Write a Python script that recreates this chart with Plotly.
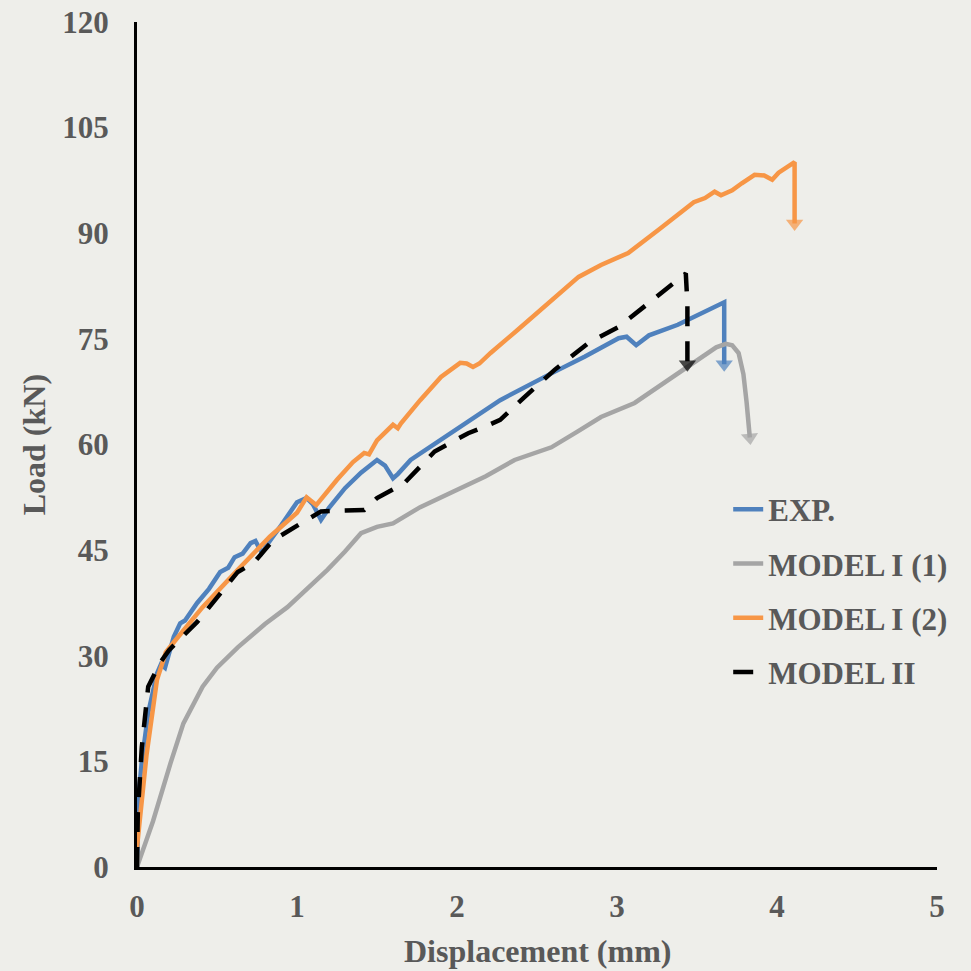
import plotly.graph_objects as go

# ---- data (Displacement mm, Load kN) ----
exp_x = [0, 0.005, 0.01, 0.03, 0.07, 0.125, 0.15, 0.175, 0.207, 0.23, 0.27, 0.3, 0.376, 0.45, 0.52, 0.57,
         0.61, 0.66, 0.71, 0.74, 0.78, 0.82, 0.9, 1.0, 1.06, 1.1, 1.15, 1.2, 1.3, 1.4, 1.5, 1.55, 1.6,
         1.63, 1.71, 1.96, 2.27, 2.59, 2.8, 3.01, 3.06, 3.12, 3.2, 3.38, 3.5, 3.67, 3.67]
exp_y = [0, 5, 10, 15, 21.9, 27.5, 28.8, 28.3, 31.2, 32.7, 34.6, 35, 37.5, 39.5, 41.9, 42.5,
         44, 44.5, 46, 46.3, 44.6, 46, 48.5, 51.8, 52.4, 51.5, 49.3, 51, 53.8, 56, 57.8, 57, 55.2,
         55.8, 57.8, 61.6, 66.3, 70.1, 72.5, 75.1, 75.3, 74.1, 75.5, 77.0, 78.3, 80.2, 71.4]

m1_x = [0, 0.1, 0.21, 0.29, 0.41, 0.5, 0.63, 0.8, 0.94, 1.19, 1.3, 1.4, 1.5, 1.6, 1.77, 2.0, 2.18,
        2.36, 2.59, 2.75, 2.9, 3.11, 3.2, 3.32, 3.53, 3.62, 3.68, 3.72, 3.76, 3.79, 3.81, 3.83]
m1_y = [0, 6.5, 14.8, 20.4, 25.6, 28.3, 31.2, 34.5, 36.9, 42.2, 44.8, 47.4, 48.3, 48.8, 51.1, 53.6, 55.5,
        57.8, 59.6, 61.8, 63.9, 65.9, 67.3, 69.2, 72.4, 73.8, 74.3, 74.1, 73.0, 70.0, 66.0, 61.0]

m2_x = [0, 0.06, 0.125, 0.18, 0.24, 0.41, 0.63, 0.83, 1.0, 1.06, 1.12, 1.25, 1.35, 1.42, 1.45, 1.5,
        1.6, 1.63, 1.65, 1.77, 1.9, 2.02, 2.06, 2.1, 2.14, 2.21, 2.38, 2.59, 2.76, 2.9, 3.07, 3.26,
        3.48, 3.55, 3.61, 3.65, 3.72, 3.78, 3.86, 3.92, 3.97, 4.01, 4.11, 4.11]
m2_y = [2.8, 16, 26.6, 30.5, 32.2, 36.9, 42.2, 46.9, 50.3, 52.5, 51.4, 55, 57.5, 58.8, 58.6, 60.6,
        62.8, 62.3, 63.0, 66.3, 69.6, 71.6, 71.5, 71.0, 71.5, 73.0, 76.3, 80.5, 83.8, 85.5, 87.2, 90.5,
        94.4, 95.0, 95.9, 95.4, 96.1, 97.1, 98.3, 98.2, 97.6, 98.6, 100.1, 91.4]

m2b_x = [0, 0.005, 0.03, 0.07, 0.144, 0.2, 0.376, 0.52, 0.63, 0.73, 0.85, 1.04, 1.15, 1.25, 1.42, 1.5,
         1.67, 1.86, 2.07, 2.17, 2.27, 2.42, 2.61, 2.82, 3.01, 3.05, 3.2, 3.36, 3.43, 3.44, 3.44]
m2b_y = [0, 7.7, 17, 25.6, 29, 30.8, 34.8, 38.9, 41.9, 43.2, 46.4, 49, 50.5, 50.6, 50.7, 52.4,
         54.5, 59.0, 61.6, 62.5, 63.5, 66.7, 70.6, 74.4, 76.7, 77.4, 80.1, 82.9, 84.3, 80.0, 71.4]

series = [
    ("EXP.", exp_x, exp_y, "#4F81BD", "solid"),
    ("MODEL I (1)", m1_x, m1_y, "#A5A5A5", "solid"),
    ("MODEL I (2)", m2_x, m2_y, "#F79646", "solid"),
    ("MODEL II", m2b_x, m2b_y, "#000000", "20px,15px"),
]

x_ticks = [0, 1, 2, 3, 4, 5]
y_ticks = [0, 15, 30, 45, 60, 75, 90, 105, 120]

FONT = "Liberation Serif, Times New Roman, serif"
TXT = "#595959"
BG = "#EEEEEA"

fig = go.Figure()
for name, xs, ys, col, dash in series:
    fig.add_trace(go.Scatter(
        x=xs, y=ys, mode="lines", name=name, legendgroup=name,
        line=dict(color=col, width=4.5, dash=dash),
    ))
for name, xs, ys, col, dash in series:
    # arrowhead at the end of each curve
    fig.add_trace(go.Scatter(
        x=xs[-2:], y=ys[-2:], mode="markers", showlegend=False, legendgroup=name,
        hoverinfo="skip",
        marker=dict(symbol="triangle-up", angleref="previous", size=[0, 15], color=col,
                    line=dict(width=0)),
    ))

axis_font = dict(family=FONT, size=31, color=TXT, weight="bold")
fig.update_layout(
    width=971, height=971,
    margin=dict(l=137, r=34, t=22, b=104, autoexpand=False),
    paper_bgcolor=BG, plot_bgcolor=BG,
    showlegend=True,
    legend=dict(x=0.739, y=0.455, xanchor="left", yanchor="top",
                bgcolor="rgba(0,0,0,0)", font=dict(family=FONT, size=31, color=TXT, weight="bold"),
                tracegroupgap=11, traceorder="grouped", itemwidth=30),
    xaxis=dict(range=[0, 5], tickvals=x_ticks, ticktext=[str(v) for v in x_ticks],
               showgrid=False, zeroline=False, showline=True, linecolor="black", linewidth=3,
               ticks="", tickfont=axis_font, ticklabelstandoff=10, automargin=False),
    yaxis=dict(range=[0, 120], tickvals=y_ticks, ticktext=[str(v) for v in y_ticks],
               showgrid=False, zeroline=False, showline=True, linecolor="black", linewidth=3,
               ticks="", tickfont=axis_font, ticklabelstandoff=19, automargin=False),
    annotations=[
        dict(text="Displacement (mm)", xref="paper", yref="paper", x=0.5, y=-0.0994,
             xanchor="center", yanchor="middle", showarrow=False,
             font=dict(family=FONT, size=32, color=TXT, weight="bold")),
        dict(text="Load (kN)", xref="paper", yref="paper", x=-0.129, y=0.5, textangle=-90,
             xanchor="center", yanchor="middle", showarrow=False,
             font=dict(family=FONT, size=32, color=TXT, weight="bold")),
    ],
)

fig.write_html("out.html", config={"displayModeBar": False},
               post_script="document.body.style.margin='0';document.body.style.overflow='hidden';")
